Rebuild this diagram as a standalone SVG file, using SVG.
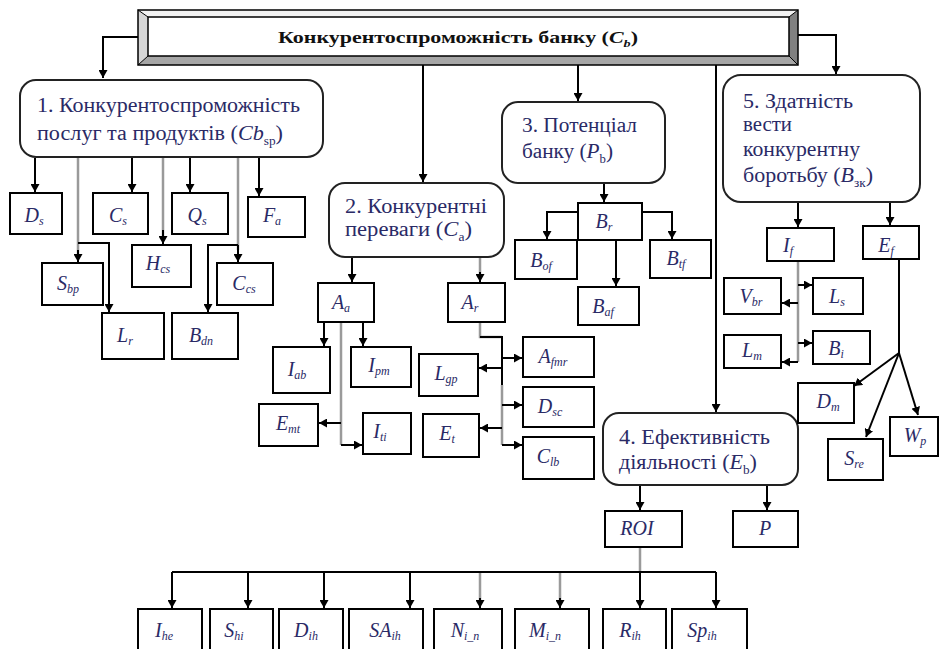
<svg xmlns="http://www.w3.org/2000/svg" width="939" height="649" viewBox="0 0 939 649" font-family="'Liberation Serif',serif">
<defs>
<marker id="ah" markerUnits="userSpaceOnUse" markerWidth="9" markerHeight="9" refX="8" refY="4.5" orient="auto">
<path d="M0,0 L8,4.5 L0,9 z" fill="#000"/>
</marker>
<style>
.box{fill:#fff;stroke:#000;stroke-width:2}
.rbox{fill:#fff;stroke:#222;stroke-width:2}
.lbl{font-style:italic;font-size:20px;fill:#2a2a66;text-anchor:middle}
.sub{font-size:12px}
.ttl{font-size:20px;fill:#2a2a66}
.it{font-style:italic}
.c{fill:none;stroke:#000;stroke-width:2}
.g{fill:none;stroke:#9a9a9a;stroke-width:2.5}
.a{marker-end:url(#ah)}
</style>
</defs>
<rect width="939" height="649" fill="#fff"/>

<g id="connectors">
<path class="c a" d="M138,37 H103 V78"/>
<path class="c a" d="M423,65 V182"/>
<path class="c a" d="M578,65 V101"/>
<path class="c a" d="M716,65 V412"/>
<path class="c a" d="M798,35 H836 V74"/>
<path class="c a" d="M35,158 V192"/>
<path class="c a" d="M132,158 V192"/>
<path class="c a" d="M190,158 V192"/>
<path class="c a" d="M259,158 V196"/>
<path class="g" d="M78,158 V255"/>
<path class="c a" d="M78,250 V262"/>
<path class="c a" d="M78,243 H109 V312"/>
<path class="g" d="M163,158 V236"/>
<path class="c a" d="M163,230 V244"/>
<path class="g" d="M238,158 V250"/>
<path class="c a" d="M238,245 V262"/>
<path class="c a" d="M238,245 H208 V312"/>
<path class="c a" d="M352,258 V282"/>
<path class="g" d="M480,258 V275"/>
<path class="c a" d="M480,272 V282"/>
<path class="c a" d="M324,323 V346"/>
<path class="c a" d="M363,323 V346"/>
<path class="g" d="M341,323 V445"/>
<path class="c a" d="M341,445 H362"/>
<path class="c a" d="M341,423 H319"/>
<path class="g" d="M480,323 V337 H502"/>
<path class="c" d="M480,337 H502 V385"/>
<path class="g" d="M502,385 V445"/>
<path class="c a" d="M502,358 H522"/>
<path class="c a" d="M502,368 H479"/>
<path class="c a" d="M502,405 H522"/>
<path class="c a" d="M502,428 H480"/>
<path class="c a" d="M502,445 H522"/>
<path class="c a" d="M604,184 V202"/>
<path class="c a" d="M578,212 H547 V239"/>
<path class="c a" d="M616,241 V286"/>
<path class="c a" d="M642,212 H672 V239"/>
<path class="c a" d="M798,203 V227"/>
<path class="c a" d="M890,203 V225"/>
<path class="g" d="M798,262 V362"/>
<path class="c a" d="M798,285 H812"/>
<path class="c a" d="M798,303 H782"/>
<path class="c a" d="M798,343 H812"/>
<path class="c a" d="M798,362 H782"/>
<path class="c" d="M899,260 V353"/>
<path class="c a" d="M899,353 L854,386"/>
<path class="c a" d="M899,353 L866,437"/>
<path class="c a" d="M899,353 L918,415"/>
<path class="c a" d="M640,486 V510"/>
<path class="c a" d="M767,486 V510"/>
<path class="g" d="M640,548 V572"/>
<path class="c" d="M172,572 H716"/>
<path class="c a" d="M172,572 V608"/>
<path class="c a" d="M248,572 V608"/>
<path class="c a" d="M324,572 V608"/>
<path class="c a" d="M410,572 V608"/>
<path class="g" d="M480,573 V600"/>
<path class="c a" d="M480,598 V608"/>
<path class="g" d="M560,573 V600"/>
<path class="c a" d="M560,598 V608"/>
<path class="c a" d="M640,572 V608"/>
<path class="c a" d="M716,572 V608"/>
</g>

<g id="root">
<polygon points="138,10 798,10 789,17 148,17" fill="#f2f2f2"/>
<polygon points="138,10 148,17 148,56 138,65" fill="#d6d6d6"/>
<polygon points="138,65 148,56 789,56 798,65" fill="#a6a6a6"/>
<polygon points="798,10 789,17 789,56 798,65" fill="#808080"/>
<rect x="138" y="10" width="660" height="55" fill="none" stroke="#000" stroke-width="1.5"/>
<rect x="148" y="17" width="641" height="39" fill="#fff" stroke="#000" stroke-width="1.5"/>
<line x1="138" y1="10" x2="148" y2="17" stroke="#000" stroke-width="1"/>
<line x1="138" y1="65" x2="148" y2="56" stroke="#000" stroke-width="1"/>
<line x1="798" y1="10" x2="789" y2="17" stroke="#000" stroke-width="1"/>
<line x1="798" y1="65" x2="789" y2="56" stroke="#000" stroke-width="1"/>
<text x="278" y="43" font-size="17" font-weight="bold" fill="#111" textLength="360" lengthAdjust="spacingAndGlyphs">Конкурентоспроможність банку (<tspan font-style="italic">C</tspan><tspan font-size="11" dy="4" font-style="italic">b</tspan><tspan dy="-4">)</tspan></text>
</g>

<g id="n1">
<rect class="rbox" x="20" y="80" width="303" height="77" rx="16"/>
<text class="ttl" x="37" y="112" textLength="263" lengthAdjust="spacingAndGlyphs">1. Конкурентоспроможність</text>
<text class="ttl" x="37" y="140" textLength="246" lengthAdjust="spacingAndGlyphs">послуг та продуктів (<tspan class="it">Cb</tspan><tspan font-size="12" dy="5">sp</tspan><tspan dy="-5">)</tspan></text>
</g>
<g id="n2">
<rect class="rbox" x="329" y="183" width="175" height="74" rx="16"/>
<text class="ttl" x="345" y="213" textLength="142" lengthAdjust="spacingAndGlyphs">2. Конкурентні</text>
<text class="ttl" x="345" y="236" textLength="127" lengthAdjust="spacingAndGlyphs">переваги (<tspan class="it">C</tspan><tspan font-size="12" dy="5">a</tspan><tspan dy="-5">)</tspan></text>
</g>
<g id="n3">
<rect class="rbox" x="502" y="102" width="163" height="81" rx="16"/>
<text class="ttl" x="522" y="132" textLength="115" lengthAdjust="spacingAndGlyphs">3. Потенціал</text>
<text class="ttl" x="522" y="158" textLength="91" lengthAdjust="spacingAndGlyphs">банку (<tspan class="it">P</tspan><tspan font-size="12" dy="5">b</tspan><tspan dy="-5">)</tspan></text>
</g>
<g id="n4">
<rect class="rbox" x="603" y="413" width="195" height="72" rx="16"/>
<text class="ttl" x="619" y="444" textLength="151" lengthAdjust="spacingAndGlyphs">4. Ефективність</text>
<text class="ttl" x="619" y="469" textLength="138" lengthAdjust="spacingAndGlyphs">діяльності (<tspan class="it">E</tspan><tspan font-size="12" dy="5">b</tspan><tspan dy="-5">)</tspan></text>
</g>
<g id="n5">
<rect class="rbox" x="723" y="75" width="197" height="127" rx="18"/>
<text class="ttl" x="743" y="108" textLength="110" lengthAdjust="spacingAndGlyphs">5. Здатність</text>
<text class="ttl" x="743" y="131" textLength="49" lengthAdjust="spacingAndGlyphs">вести</text>
<text class="ttl" x="743" y="156" textLength="117" lengthAdjust="spacingAndGlyphs">конкурентну</text>
<text class="ttl" x="743" y="182" textLength="130" lengthAdjust="spacingAndGlyphs">боротьбу (<tspan class="it">B</tspan><tspan font-size="12" dy="5">зк</tspan><tspan dy="-5">)</tspan></text>
</g>

<g id="Ds"><rect class="box" x="10" y="193" width="52" height="41"/><text class="lbl" x="34" y="222">D<tspan class="sub" dy="3">s</tspan></text></g>
<g id="Cs"><rect class="box" x="93" y="193" width="55" height="41"/><text class="lbl" x="118" y="222">C<tspan class="sub" dy="3">s</tspan></text></g>
<g id="Qs"><rect class="box" x="172" y="193" width="56" height="41"/><text class="lbl" x="197" y="222">Q<tspan class="sub" dy="3">s</tspan></text></g>
<g id="Fa"><rect class="box" x="248" y="197" width="57" height="40"/><text class="lbl" x="272" y="222">F<tspan class="sub" dy="3">a</tspan></text></g>
<g id="Sbp"><rect class="box" x="42" y="263" width="61" height="42"/><text class="lbl" x="68" y="290">S<tspan class="sub" dy="3">bp</tspan></text></g>
<g id="Hcs"><rect class="box" x="132" y="245" width="59" height="42"/><text class="lbl" x="158" y="270">H<tspan class="sub" dy="3">cs</tspan></text></g>
<g id="Ccs"><rect class="box" x="217" y="263" width="56" height="42"/><text class="lbl" x="244" y="290">C<tspan class="sub" dy="3">cs</tspan></text></g>
<g id="Lr"><rect class="box" x="102" y="313" width="62" height="46"/><text class="lbl" x="125" y="342">L<tspan class="sub" dy="3">r</tspan></text></g>
<g id="Bdn"><rect class="box" x="172" y="313" width="66" height="46"/><text class="lbl" x="201" y="342">B<tspan class="sub" dy="3">dn</tspan></text></g>

<g id="Aa"><rect class="box" x="318" y="283" width="56" height="39"/><text class="lbl" x="341" y="309">A<tspan class="sub" dy="3">a</tspan></text></g>
<g id="Ar"><rect class="box" x="448" y="283" width="57" height="39"/><text class="lbl" x="470" y="309">A<tspan class="sub" dy="3">r</tspan></text></g>
<g id="Iab"><rect class="box" x="273" y="347" width="57" height="46"/><text class="lbl" x="297" y="376">I<tspan class="sub" dy="3">ab</tspan></text></g>
<g id="Ipm"><rect class="box" x="351" y="347" width="60" height="40"/><text class="lbl" x="379" y="372">I<tspan class="sub" dy="3">pm</tspan></text></g>
<g id="Emt"><rect class="box" x="259" y="404" width="59" height="42"/><text class="lbl" x="288" y="430">E<tspan class="sub" dy="3">mt</tspan></text></g>
<g id="Iti"><rect class="box" x="363" y="413" width="48" height="41"/><text class="lbl" x="380" y="438">I<tspan class="sub" dy="3">ti</tspan></text></g>
<g id="Afmr"><rect class="box" x="523" y="337" width="71" height="40"/><text class="lbl" x="553" y="363">A<tspan class="sub" dy="3">fmr</tspan></text></g>
<g id="Lgp"><rect class="box" x="419" y="354" width="59" height="42"/><text class="lbl" x="446" y="380">L<tspan class="sub" dy="3">gp</tspan></text></g>
<g id="Dsc"><rect class="box" x="523" y="387" width="71" height="40"/><text class="lbl" x="550" y="413">D<tspan class="sub" dy="3">sc</tspan></text></g>
<g id="Et"><rect class="box" x="423" y="414" width="56" height="43"/><text class="lbl" x="447" y="440">E<tspan class="sub" dy="3">t</tspan></text></g>
<g id="Clb"><rect class="box" x="523" y="437" width="71" height="42"/><text class="lbl" x="548" y="463">C<tspan class="sub" dy="3">lb</tspan></text></g>

<g id="Br"><rect class="box" x="578" y="203" width="64" height="37"/><text class="lbl" x="604" y="228">B<tspan class="sub" dy="3">r</tspan></text></g>
<g id="Bof"><rect class="box" x="515" y="240" width="62" height="39"/><text class="lbl" x="541" y="267">B<tspan class="sub" dy="3">of</tspan></text></g>
<g id="Baf"><rect class="box" x="578" y="287" width="61" height="38"/><text class="lbl" x="603" y="313">B<tspan class="sub" dy="3">af</tspan></text></g>
<g id="Btf"><rect class="box" x="650" y="240" width="61" height="38"/><text class="lbl" x="676" y="265">B<tspan class="sub" dy="3">tf</tspan></text></g>

<g id="If"><rect class="box" x="767" y="228" width="67" height="33"/><text class="lbl" x="788" y="252">I<tspan class="sub" dy="3">f</tspan></text></g>
<g id="Ef"><rect class="box" x="863" y="226" width="56" height="33"/><text class="lbl" x="886" y="252">E<tspan class="sub" dy="3">f</tspan></text></g>
<g id="Vbr"><rect class="box" x="724" y="278" width="57" height="36"/><text class="lbl" x="751" y="303">V<tspan class="sub" dy="3">br</tspan></text></g>
<g id="Ls"><rect class="box" x="813" y="278" width="50" height="36"/><text class="lbl" x="837" y="303">L<tspan class="sub" dy="3">s</tspan></text></g>
<g id="Lm"><rect class="box" x="724" y="335" width="57" height="33"/><text class="lbl" x="752" y="357">L<tspan class="sub" dy="3">m</tspan></text></g>
<g id="Bi"><rect class="box" x="813" y="331" width="57" height="33"/><text class="lbl" x="836" y="355">B<tspan class="sub" dy="3">i</tspan></text></g>
<g id="Dm"><rect class="box" x="798" y="383" width="56" height="40"/><text class="lbl" x="828" y="408">D<tspan class="sub" dy="3">m</tspan></text></g>
<g id="Sre"><rect class="box" x="828" y="439" width="55" height="41"/><text class="lbl" x="854" y="465">S<tspan class="sub" dy="3">re</tspan></text></g>
<g id="Wp"><rect class="box" x="890" y="417" width="48" height="39"/><text class="lbl" x="915" y="442">W<tspan class="sub" dy="3">p</tspan></text></g>

<g id="ROI"><rect class="box" x="605" y="511" width="77" height="36"/><text class="lbl" x="637" y="535">ROI</text></g>
<g id="P"><rect class="box" x="733" y="511" width="65" height="36"/><text class="lbl" x="765" y="535">P</text></g>

<g id="Ihe"><rect class="box" x="138" y="609" width="64" height="50"/><text class="lbl" x="164" y="637">I<tspan class="sub" dy="3">he</tspan></text></g>
<g id="Shi"><rect class="box" x="210" y="609" width="63" height="50"/><text class="lbl" x="234" y="637">S<tspan class="sub" dy="3">hi</tspan></text></g>
<g id="Dih"><rect class="box" x="279" y="609" width="64" height="50"/><text class="lbl" x="306" y="637">D<tspan class="sub" dy="3">ih</tspan></text></g>
<g id="SAih"><rect class="box" x="349" y="609" width="74" height="50"/><text class="lbl" x="385" y="637">SA<tspan class="sub" dy="3">ih</tspan></text></g>
<g id="Nin"><rect class="box" x="434" y="609" width="68" height="50"/><text class="lbl" x="465" y="637">N<tspan class="sub" dy="3">i_n</tspan></text></g>
<g id="Min"><rect class="box" x="515" y="609" width="74" height="50"/><text class="lbl" x="545" y="637">M<tspan class="sub" dy="3">i_n</tspan></text></g>
<g id="Rih"><rect class="box" x="603" y="609" width="63" height="50"/><text class="lbl" x="630" y="637">R<tspan class="sub" dy="3">ih</tspan></text></g>
<g id="Spih"><rect class="box" x="672" y="609" width="75" height="50"/><text class="lbl" x="702" y="637">Sp<tspan class="sub" dy="3">ih</tspan></text></g>
</svg>
